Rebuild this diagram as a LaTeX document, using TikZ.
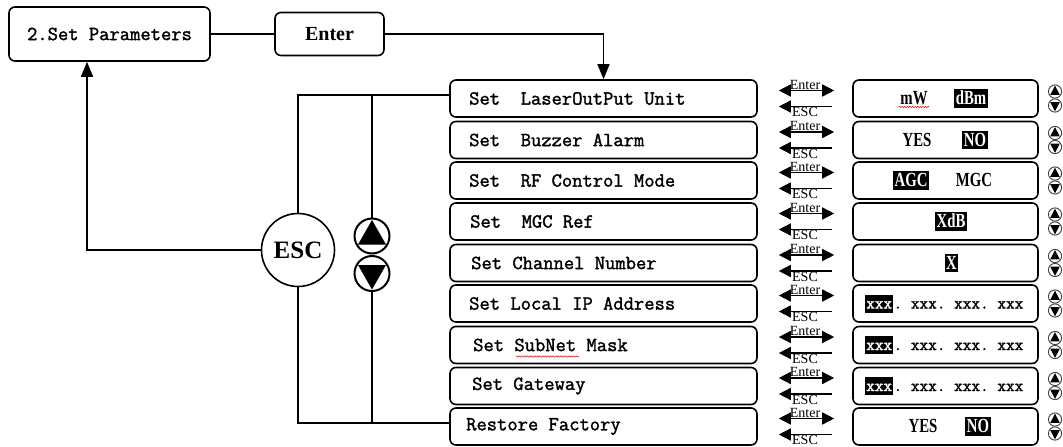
\documentclass[tikz,border=0pt]{standalone}
\usepackage{fontspec}
\setmainfont{Liberation Serif}
\newfontfamily\cond[FakeStretch=0.74]{Liberation Serif}
\newfontfamily\mfont[FakeBold=1.6]{Latin Modern Mono}
\usetikzlibrary{arrows.meta,decorations.pathmorphing}
\begin{document}
\begin{tikzpicture}[x=1pt,y=-1pt,
  box/.style={draw, line width=1.6pt, rounded corners=6pt, inner sep=0pt},
  con/.style={line width=1.5pt},
  mono/.style={font=\mfont\fontsize{20}{20}\selectfont\frenchspacing, inner sep=0pt, anchor=west},
  val/.style={font=\cond\bfseries\fontsize{20}{20}\selectfont, text height=13.5pt, text depth=1pt, inner xsep=1.5pt, inner ysep=2pt},
  xm/.style={font=\mfont\fontsize{16.8}{16.8}\selectfont\frenchspacing, text height=11pt, text depth=1pt, inner xsep=1pt, inner ysep=3pt, anchor=west},
  hl/.style={fill=black, text=white},
  small/.style={font=\fontsize{14}{14}\selectfont, inner sep=0.2pt},
  ftip/.tip={Triangle[length=12pt,width=12pt]},
  btip/.tip={Triangle[length=15pt,width=12pt]},
  squig/.style={red, line width=0.5pt, decorate, decoration={snake, amplitude=0.7pt, segment length=2.6pt}}
]
\useasboundingbox (0,0) rectangle (1063,447);

% top boxes
\node[box, minimum width=201pt, minimum height=54pt, font=\mfont\fontsize{20}{20}\selectfont] (sp) at (109.5,34) {2.Set Parameters};
\node[box, minimum width=109pt, minimum height=43pt, font=\bfseries\fontsize{20}{20}\selectfont] (ent) at (329.5,34) {Enter};

% rows
\foreach \i/\y in {1/98.5,2/140,3/180.5,4/221.5,5/263,6/303.5,7/345,8/386,9/426.5}{
  \node[box, minimum width=307pt, minimum height=37pt] (r\i) at (603.5,\y) {};
  \node[box, minimum width=185pt, minimum height=37pt] (v\i) at (945.5,\y) {};
  \draw[con, ftip-ftip, shorten <=21pt, shorten >=18pt] ([yshift=8pt]r\i.east) -- ([yshift=8pt]v\i.west)
     node[midway, above, small] (en\i) {Enter};
  \draw[con, ftip-, shorten <=21pt, shorten >=20pt] ([yshift=-8pt]r\i.east) -- ([yshift=-8pt]v\i.west)
     node[midway, below, small] (es\i) {ESC};
  % small up/down icons
  \draw[black!75, line width=0.9pt] (1055,{\y-7}) circle (6.6pt);
  \draw[black!75, line width=0.9pt] (1055,{\y+7}) circle (6.6pt);
  \fill (1055,{\y-12.8}) -- (1050.2,{\y-3.6}) -- (1059.8,{\y-3.6}) -- cycle;
  \fill (1055,{\y+12.8}) -- (1050.2,{\y+3.6}) -- (1059.8,{\y+3.6}) -- cycle;
}

% row texts
\node[mono] (t1) at (469,98.5) {Set~~LaserOutPut Unit};
\node[mono] (t2) at (469,140) {Set~~Buzzer Alarm};
\node[mono] (t3) at (469,180.5) {Set~~RF Control Mode};
\node[mono] (t4) at (470,221.5) {Set~~MGC Ref};
\node[mono] (t5) at (471,263) {Set Channel Number};
\node[mono] (t6) at (469,303.5) {Set Local IP Address};
\node[mono] (t7) at (473,345) {Set SubNet Mask};
\node[mono] (t8) at (472,386) {Set Gateway};
\node[mono] (t9) at (466,426.5) {Restore Factory};
\draw[squig] (516,356.5) -- (579,356.5);

% values
\node[val] (mw) at (914,98.5) {mW};
\node[val, hl] (dbm) at (971,98.5) {dBm};
\draw[squig] ([yshift=1pt]mw.south west) -- ([yshift=1pt]mw.south east);
\node[val] (yes2) at (917,140) {YES};
\node[val, hl] (no2) at (975,140) {NO};
\node[val, hl] (agc) at (911,180.5) {AGC};
\node[val] (mgc) at (974,180.5) {MGC};
\node[val, hl] (xdb) at (951,221.5) {XdB};
\node[val, hl] (xch) at (951.5,263) {X};
\foreach \i/\y in {6/303.5,7/345,8/386}{
  \node[xm, hl] (xa\i) at (865,\y) {xxx};
  \node[xm, inner xsep=0pt] (xb\i) at (xa\i.east) {.~xxx.~xxx.~xxx};
}
\node[val] (yes9) at (923,426.5) {YES};
\node[val, hl] (no9) at (978,426.5) {NO};

% ESC and up/down
\node[circle, draw, line width=1.6pt, minimum size=73pt, inner sep=0pt, font=\bfseries\fontsize{25}{25}\selectfont] (esc) at (298,250) {ESC};
\node[circle, draw, line width=2pt, minimum size=35pt, inner sep=0pt] (up) at (372,236) {};
\node[circle, draw, line width=2pt, minimum size=35pt, inner sep=0pt] (dn) at (372,273.5) {};
\fill ([yshift=16pt]up.center) -- ++(-14,24.5) -- ++(28,0) -- cycle;
\fill ([yshift=-16pt]dn.center) -- ++(-14,-24.5) -- ++(28,0) -- cycle;

% connectors
\coordinate (c1) at ([yshift=3.5pt]r1.west);
\coordinate (c9) at ([yshift=3.5pt]r9.west);
\coordinate (spin) at ([xshift=-22.5pt]sp.south);
\draw[con] (sp.east) -- (ent.west);
\draw[con, -btip] (ent.east) -| (r1.north);
\draw[con] (c1) -| (esc.north);
\draw[con] (c9) -| (esc.south);
\draw[con] (up.north) -- (up.north |- c1);
\draw[con] (dn.south) -- (dn.south |- c9);
\draw[con, -btip] (esc.west) -| (spin);
\end{tikzpicture}
\end{document}
